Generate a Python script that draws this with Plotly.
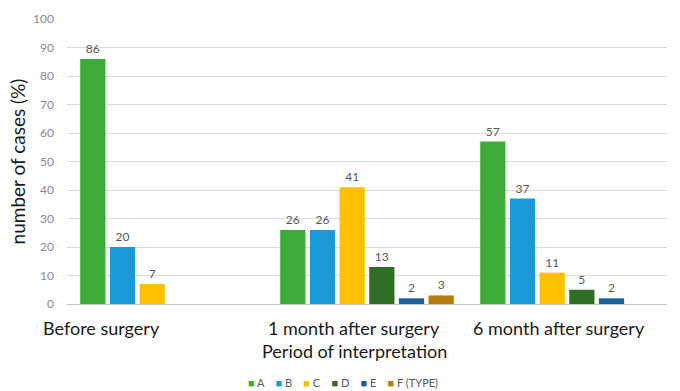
import plotly.graph_objects as go

periods = ["Before surgery", "1 month after surgery", "6 month after surgery"]
series_names = ["A", "B", "C", "D", "E", "F (TYPE)"]
A = [86, 26, 57]
B = [20, 26, 37]
C = [7, 41, 11]
D = [None, 13, 5]
E = [None, 2, 2]
F = [None, 3, None]
colors = ["#3dab37", "#1a9ad8", "#ffc000", "#2f6e25", "#1b5f9c", "#b57f10"]
y_ticks = [0, 10, 20, 30, 40, 50, 60, 70, 80, 90, 100]
x_title = "Period of interpretation"
y_title = "number of cases (%)"

FONT = "Lato"
fig = go.Figure()
xs = list(range(len(periods)))
for name, vals, col in zip(series_names, [A, B, C, D, E, F], colors):
    fig.add_trace(go.Bar(
        x=xs, y=vals, name=name,
        marker=dict(color=col, line=dict(width=0)),
        text=["" if v is None else str(v) for v in vals],
        textposition="outside", cliponaxis=False,
        textfont=dict(family=FONT, size=12, color="#595959"),
        showlegend=False,
    ))

# category labels
label_pos = [-0.33, 0.935, 1.96]
for p, lab in zip(label_pos, periods):
    fig.add_annotation(x=p, y=-0.04, xref="x", yref="paper", text=lab,
                       showarrow=False, yanchor="top",
                       font=dict(family=FONT, size=18, color="#1a1a1a"))
fig.add_annotation(x=0.935, y=-0.12, xref="x", yref="paper", text=x_title,
                   showarrow=False, yanchor="top",
                   font=dict(family=FONT, size=18, color="#1a1a1a"))

# legend as text
legend_txt = "    ".join(
    f"<span style='color:{c}'>■</span> {n}" for n, c in zip(series_names, colors))
fig.add_annotation(x=0.46, y=-0.245, xref="paper", yref="paper", text=legend_txt,
                   showarrow=False, yanchor="top",
                   font=dict(family=FONT, size=11, color="#595959"))

fig.update_layout(
    width=680, height=391,
    margin=dict(l=67, r=13, t=19, b=87),
    paper_bgcolor="white", plot_bgcolor="white",
    barmode="group", bargap=0.11, bargroupgap=0.15,
    xaxis=dict(range=[-0.5, 2.5], showticklabels=False, ticks="",
               showgrid=False, showline=True, linecolor="#c8c8c8", linewidth=1,
               zeroline=False),
    yaxis=dict(range=[0, 100], tickvals=y_ticks, showgrid=True,
               gridcolor="#dcdcdc", gridwidth=1, zeroline=False,
               tickfont=dict(family=FONT, size=12, color="#8a8a8a"),
               ticks="", ticklen=0, ticklabelstandoff=12,
               title=dict(text=y_title, standoff=2,
                          font=dict(family=FONT, size=19, color="#1a1a1a"))),
)

fig.write_html("out.html")
